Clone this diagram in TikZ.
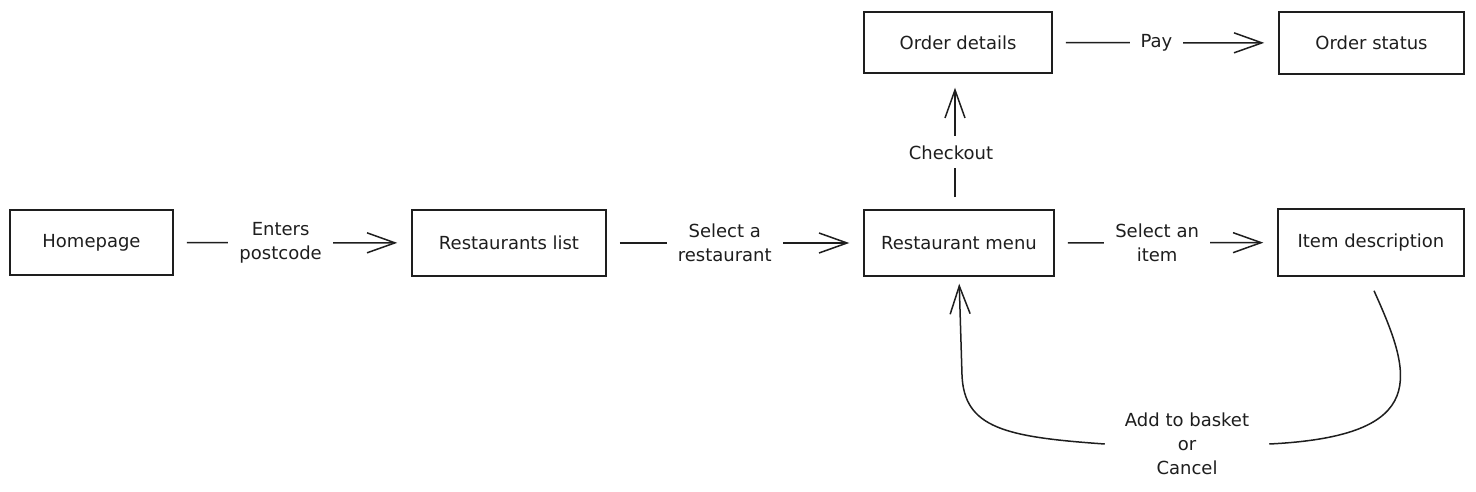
\documentclass[tikz,border=0pt]{standalone}
\usepackage{fontspec}
\setmainfont{DejaVu Sans}
\usetikzlibrary{arrows.meta,calc}
\definecolor{ink}{HTML}{1E1E1E}
\begin{document}
\begin{tikzpicture}[x=1pt,y=-1pt,
  box/.style={draw=ink, line width=1.5pt, inner sep=0pt, text=ink,
    font=\fontsize{18}{24}\selectfont},
  lbl/.style={fill=white, text=ink, align=center, inner xsep=11pt, inner ysep=2pt,
    font=\fontsize{18}{24}\selectfont},
  conn/.style={draw=ink, line width=1.5pt, -{Straight Barb[length=28pt,width=20pt]},
    shorten <=13pt, shorten >=14pt},
  plain/.style={draw=ink, line width=1.5pt}
]
\useasboundingbox (0,0) rectangle (1476,492);

\node[box, minimum width=163pt, minimum height=65pt] (home) at (91.5,242.5) {Homepage};
\node[box, minimum width=194pt, minimum height=66pt] (rlist) at (509,243) {Restaurants list};
\node[box, minimum width=190pt, minimum height=66pt] (menu) at (959,243) {Restaurant menu};
\node[box, minimum width=186pt, minimum height=67pt] (item) at (1371,242.5) {Item description};
\node[box, minimum width=188pt, minimum height=61pt] (odet) at (958,42.5) {Order details};
\node[box, minimum width=185pt, minimum height=62pt] (ostat) at (1371.5,43) {Order status};

\draw[conn] (home) -- node[lbl, pos=0.45] (l1) {Enters\\postcode} (rlist);
\draw[conn] (rlist) -- node[lbl, pos=0.46] (l2) {Select a\\restaurant} (menu);
\draw[conn] (menu) -- node[lbl, pos=0.46] (l3) {Select an\\item} (item);
\draw[conn] (odet) -- node[lbl, pos=0.46] (l4) {Pay} (ostat);
\draw[conn, shorten <=12pt] (menu.north -| 955,0) -- node[lbl, pos=0.42, inner ysep=9pt, xshift=-4pt] (l5) {Checkout} (odet.south -| 955,0);

\node[lbl, inner xsep=20pt] (l6) at (1187,444) {Add to basket\\or\\Cancel};
\draw[plain] ($(item.south)+(3,14)$) .. controls (1412,375) and (1432,436) .. (l6.east);
\draw[conn, shorten <=0pt, shorten >=7pt] (l6.west) .. controls (1005,437) and (964,428) .. (962,375) -- (menu.south);
\end{tikzpicture}
\end{document}
